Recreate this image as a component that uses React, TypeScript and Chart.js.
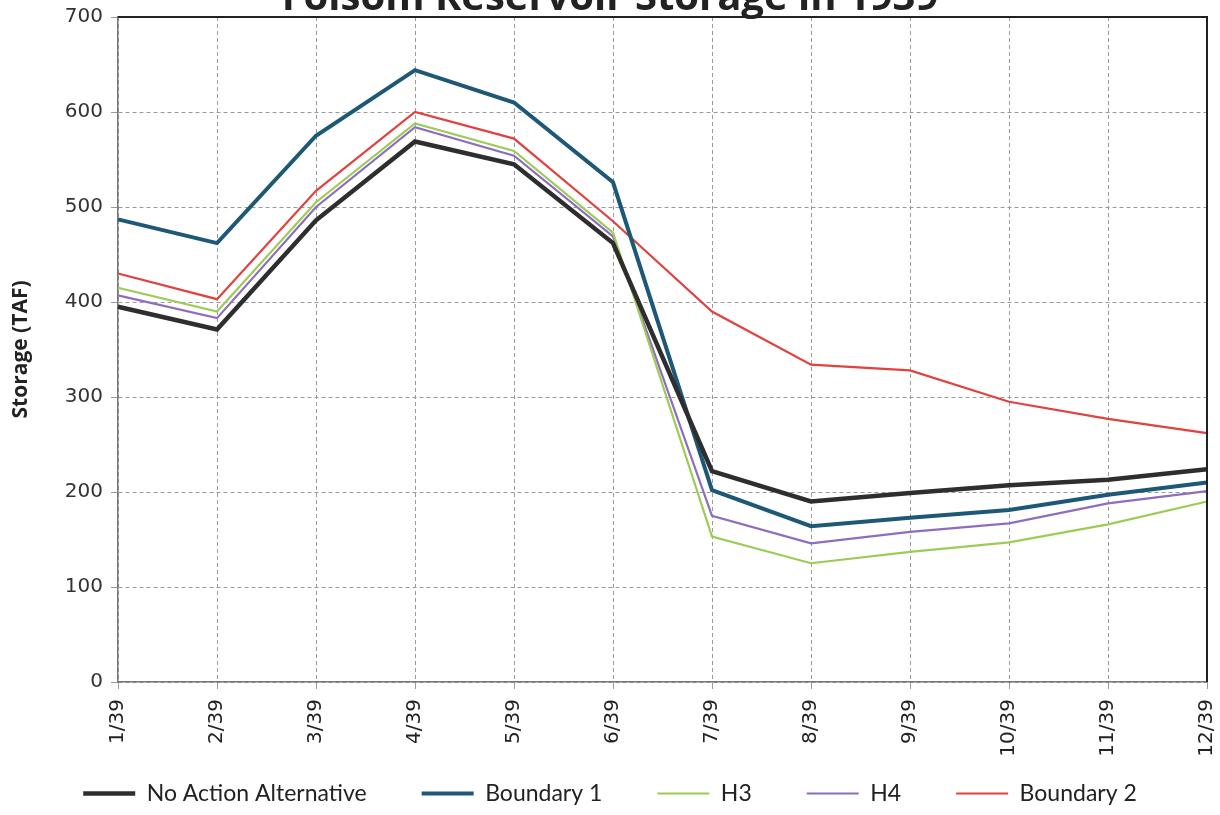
import React, { useEffect, useRef } from "react";
import { Chart, registerables } from "chart.js";

Chart.register(...registerables);

const months = ["1/39", "2/39", "3/39", "4/39", "5/39", "6/39", "7/39", "8/39", "9/39", "10/39", "11/39", "12/39"];
const noAction = [395, 371, 486, 569, 545, 462, 222, 190, 199, 207, 213, 224];
const boundary1 = [487, 462, 575, 644, 610, 526, 202, 164, 173, 181, 197, 210];
const h3 = [415, 390, 505, 588, 559, 473, 153, 125, 137, 147, 166, 190];
const h4 = [407, 383, 500, 584, 554, 469, 175, 146, 158, 167, 188, 201];
const boundary2 = [430, 403, 517, 600, 572, 485, 390, 334, 328, 295, 277, 262];

const frame = {
  id: "frame",
  afterDatasetsDraw(chart: any) {
    const { ctx, chartArea } = chart;
    ctx.save();
    ctx.strokeStyle = "#222";
    ctx.lineWidth = 2;
    ctx.beginPath();
    ctx.moveTo(chartArea.left, chartArea.top);
    ctx.lineTo(chartArea.right, chartArea.top);
    ctx.lineTo(chartArea.right, chartArea.bottom);
    ctx.stroke();
    ctx.restore();
  },
};

export default function App() {
  const ref = useRef<HTMLCanvasElement>(null);
  useEffect(() => {
    const mk = (label: string, data: number[], color: string, w: number) => ({
      label,
      data,
      borderColor: color,
      backgroundColor: color,
      borderWidth: w,
      pointRadius: 0,
      tension: 0,
      pointStyle: "line",
    });
    const chart = new Chart(ref.current!, {
      type: "line",
      data: {
        labels: months,
        datasets: [
          mk("No Action Alternative", noAction, "#2e2e2e", 4.5),
          mk("Boundary 1", boundary1, "#1d5877", 4),
          mk("H3", h3, "#9ccc55", 2.2),
          mk("H4", h4, "#8e6cc0", 2.2),
          mk("Boundary 2", boundary2, "#e2413f", 2.2),
        ],
      },
      options: {
        animation: false,
        responsive: false,
        maintainAspectRatio: false,
        layout: { padding: { left: 0, right: 0, top: 0, bottom: 0 } },
        plugins: {
          title: {
            display: true,
            text: "Folsom Reservoir Storage in 1939",
            color: "#222",
            font: { family: "Open Sans", size: 40, weight: "bold" },
            padding: { top: -25, bottom: -6 },
          },
          legend: {
            position: "bottom",
            labels: {
              color: "#222",
              font: { family: "Lato", size: 23 },
              usePointStyle: true,
              pointStyleWidth: 52,
              boxHeight: 4,
              padding: 55,
            },
          },
          tooltip: { enabled: false },
        },
        scales: {
          x: {
            offset: false,
            grid: { color: "#9a9a9a", tickLength: 7, drawTicks: true },
            border: { color: "#777", width: 1.5, dash: [4, 3] },
            ticks: {
              color: "#222",
              font: { family: "DejaVu Sans", size: 20 },
              minRotation: 90,
              maxRotation: 90,
              padding: 10,
              autoSkip: false,
            },
            afterFit(scale: any) {
              scale.height = 45;
              scale.paddingLeft = 0;
              scale.paddingRight = 13;
              scale._computeLabelArea = () => undefined;
            },
          },
          y: {
            min: 0,
            max: 700,
            grid: { color: "#9a9a9a", tickLength: 7 },
            border: { color: "#777", width: 1.5, dash: [4, 3] },
            ticks: {
              stepSize: 100,
              color: "#333",
              font: { family: "DejaVu Sans", size: 20 },
              padding: 8,
            },
            title: {
              display: true,
              text: "Storage (TAF)",
              color: "#222",
              font: { family: "Open Sans", size: 21, weight: "bold" },
              padding: { top: 8, bottom: 0 },
            },
            afterFit(scale: any) {
              scale.width = 118;
              scale.paddingTop = 0;
              scale.paddingBottom = 0;
            },
          },
        },
      },
      plugins: [frame],
    } as any);
    return () => chart.destroy();
  }, []);
  return (
    <div style={{ position: "fixed", left: 0, top: 0, width: 1220, height: 815, overflow: "hidden", background: "#fff" }}>
      <canvas ref={ref} width={1220} height={815} style={{ display: "block" }} />
    </div>
  );
}
